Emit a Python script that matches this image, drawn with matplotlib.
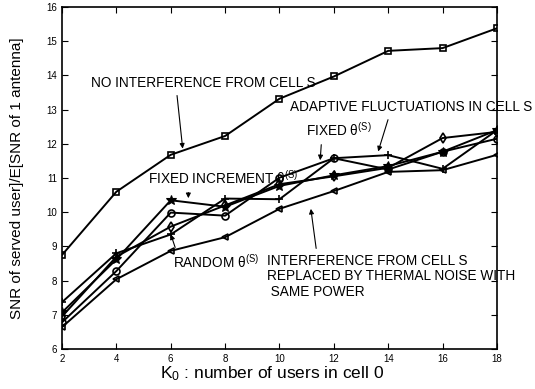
import matplotlib
matplotlib.use("Agg")
import matplotlib.pyplot as plt

plt.rcParams['font.family'] = ['Liberation Sans', 'DejaVu Sans']
plt.rcParams['mathtext.fontset'] = 'custom'
plt.rcParams['mathtext.rm'] = 'Liberation Sans'
plt.rcParams['mathtext.it'] = 'Liberation Sans:italic'

K0 = [2, 4, 6, 8, 10, 12, 14, 16, 18]
no_interf = [8.75, 10.6, 11.68, 12.23, 13.32, 13.97, 14.72, 14.8, 15.38]
fixed_incr = [6.78, 8.28, 9.99, 9.9, 11.01, 11.58, 11.25, 11.77, 12.15]   # circles
fixed_theta = [7.07, 8.62, 10.35, 10.16, 10.77, 11.08, 11.35, 11.77, 12.4]  # stars
random_theta = [6.95, 8.7, 9.58, 10.2, 10.82, 11.05, 11.3, 12.17, 12.35]  # diamonds
adaptive = [7.37, 8.8, 9.35, 10.4, 10.38, 11.58, 11.67, 11.27, 12.4]      # plus
thermal = [6.64, 8.04, 8.87, 9.27, 10.1, 10.62, 11.18, 11.23, 11.68]     # triangles

xticks = [2, 4, 6, 8, 10, 12, 14, 16, 18]
yticks = [6, 7, 8, 9, 10, 11, 12, 13, 14, 15, 16]

fig = plt.figure(figsize=(5.35, 3.89), dpi=100)
ax = fig.add_axes([0.1159, 0.1028, 0.813, 0.879])

lw = 1.4
kw = dict(color='black', linewidth=lw)
ax.plot(K0, no_interf, marker='s', markersize=4.5, markerfacecolor='none', markeredgewidth=1.2, **kw)
ax.plot(K0, thermal, marker='<', markersize=5, markerfacecolor='none', markeredgewidth=1.2, **kw)
ax.plot(K0, fixed_incr, marker='o', markersize=5, markerfacecolor='none', markeredgewidth=1.2, **kw)
ax.plot(K0, random_theta, marker='d', markersize=5, markerfacecolor='none', markeredgewidth=1.2, **kw)
ax.plot(K0, adaptive, marker='+', markersize=6, markeredgewidth=1.2, **kw)
ax.plot(K0, fixed_theta, marker='*', markersize=7, markerfacecolor='black', markeredgewidth=0.8, **kw)

ax.set_xlim(2, 18)
ax.set_ylim(6, 16)
ax.set_xticks(xticks)
ax.set_yticks(yticks)
ax.tick_params(direction='in', top=True, right=True, labelsize=7, length=4, width=0.8)
for s in ax.spines.values():
    s.set_linewidth(1.2)

ax.set_xlabel('K$_0$ : number of users in cell 0', fontsize=12.5, labelpad=0)
ax.xaxis.label.set_x(0.482)
ax.set_ylabel('SNR of served user]/E[SNR of 1 antenna]', fontsize=11, labelpad=16)

fs = 9.8
ap = dict(arrowstyle='-|>', color='black', lw=0.8, mutation_scale=7)
ax.annotate('NO INTERFERENCE FROM CELL S', xy=(6.45, 11.78), xytext=(3.07, 13.78),
            fontsize=fs, va='center', ha='left',
            arrowprops=dict(ap, relpos=(0.38, 0.0)))
ax.annotate('FIXED INCREMENT θ$^{\\mathrm{(S)}}$', xy=(6.65, 10.33), xytext=(5.15, 11.0),
            fontsize=fs, va='center', ha='left',
            arrowprops=dict(ap, relpos=(0.27, 0.0)))
ax.annotate('RANDOM θ$^{\\mathrm{(S)}}$', xy=(5.97, 9.43), xytext=(6.07, 8.55),
            fontsize=fs, va='center', ha='left',
            arrowprops=dict(ap, relpos=(0.05, 1.0)))
ax.annotate('FIXED θ$^{\\mathrm{(S)}}$', xy=(11.49, 11.44), xytext=(10.97, 12.4),
            fontsize=fs, va='center', ha='left',
            arrowprops=dict(ap, relpos=(0.24, 0.0)))
ax.annotate('ADAPTIVE FLUCTUATIONS IN CELL S', xy=(13.6, 11.7), xytext=(10.4, 13.07),
            fontsize=fs, va='center', ha='left',
            arrowprops=dict(ap, relpos=(0.41, 0.0)))
ax.annotate('INTERFERENCE FROM CELL S\nREPLACED BY THERMAL NOISE WITH\n SAME POWER',
            xy=(11.14, 10.18), xytext=(9.55, 8.78),
            fontsize=fs, va='top', ha='left', linespacing=1.12,
            arrowprops=dict(ap, relpos=(0.2, 1.0)))

fig.savefig('out.png', dpi=100)
